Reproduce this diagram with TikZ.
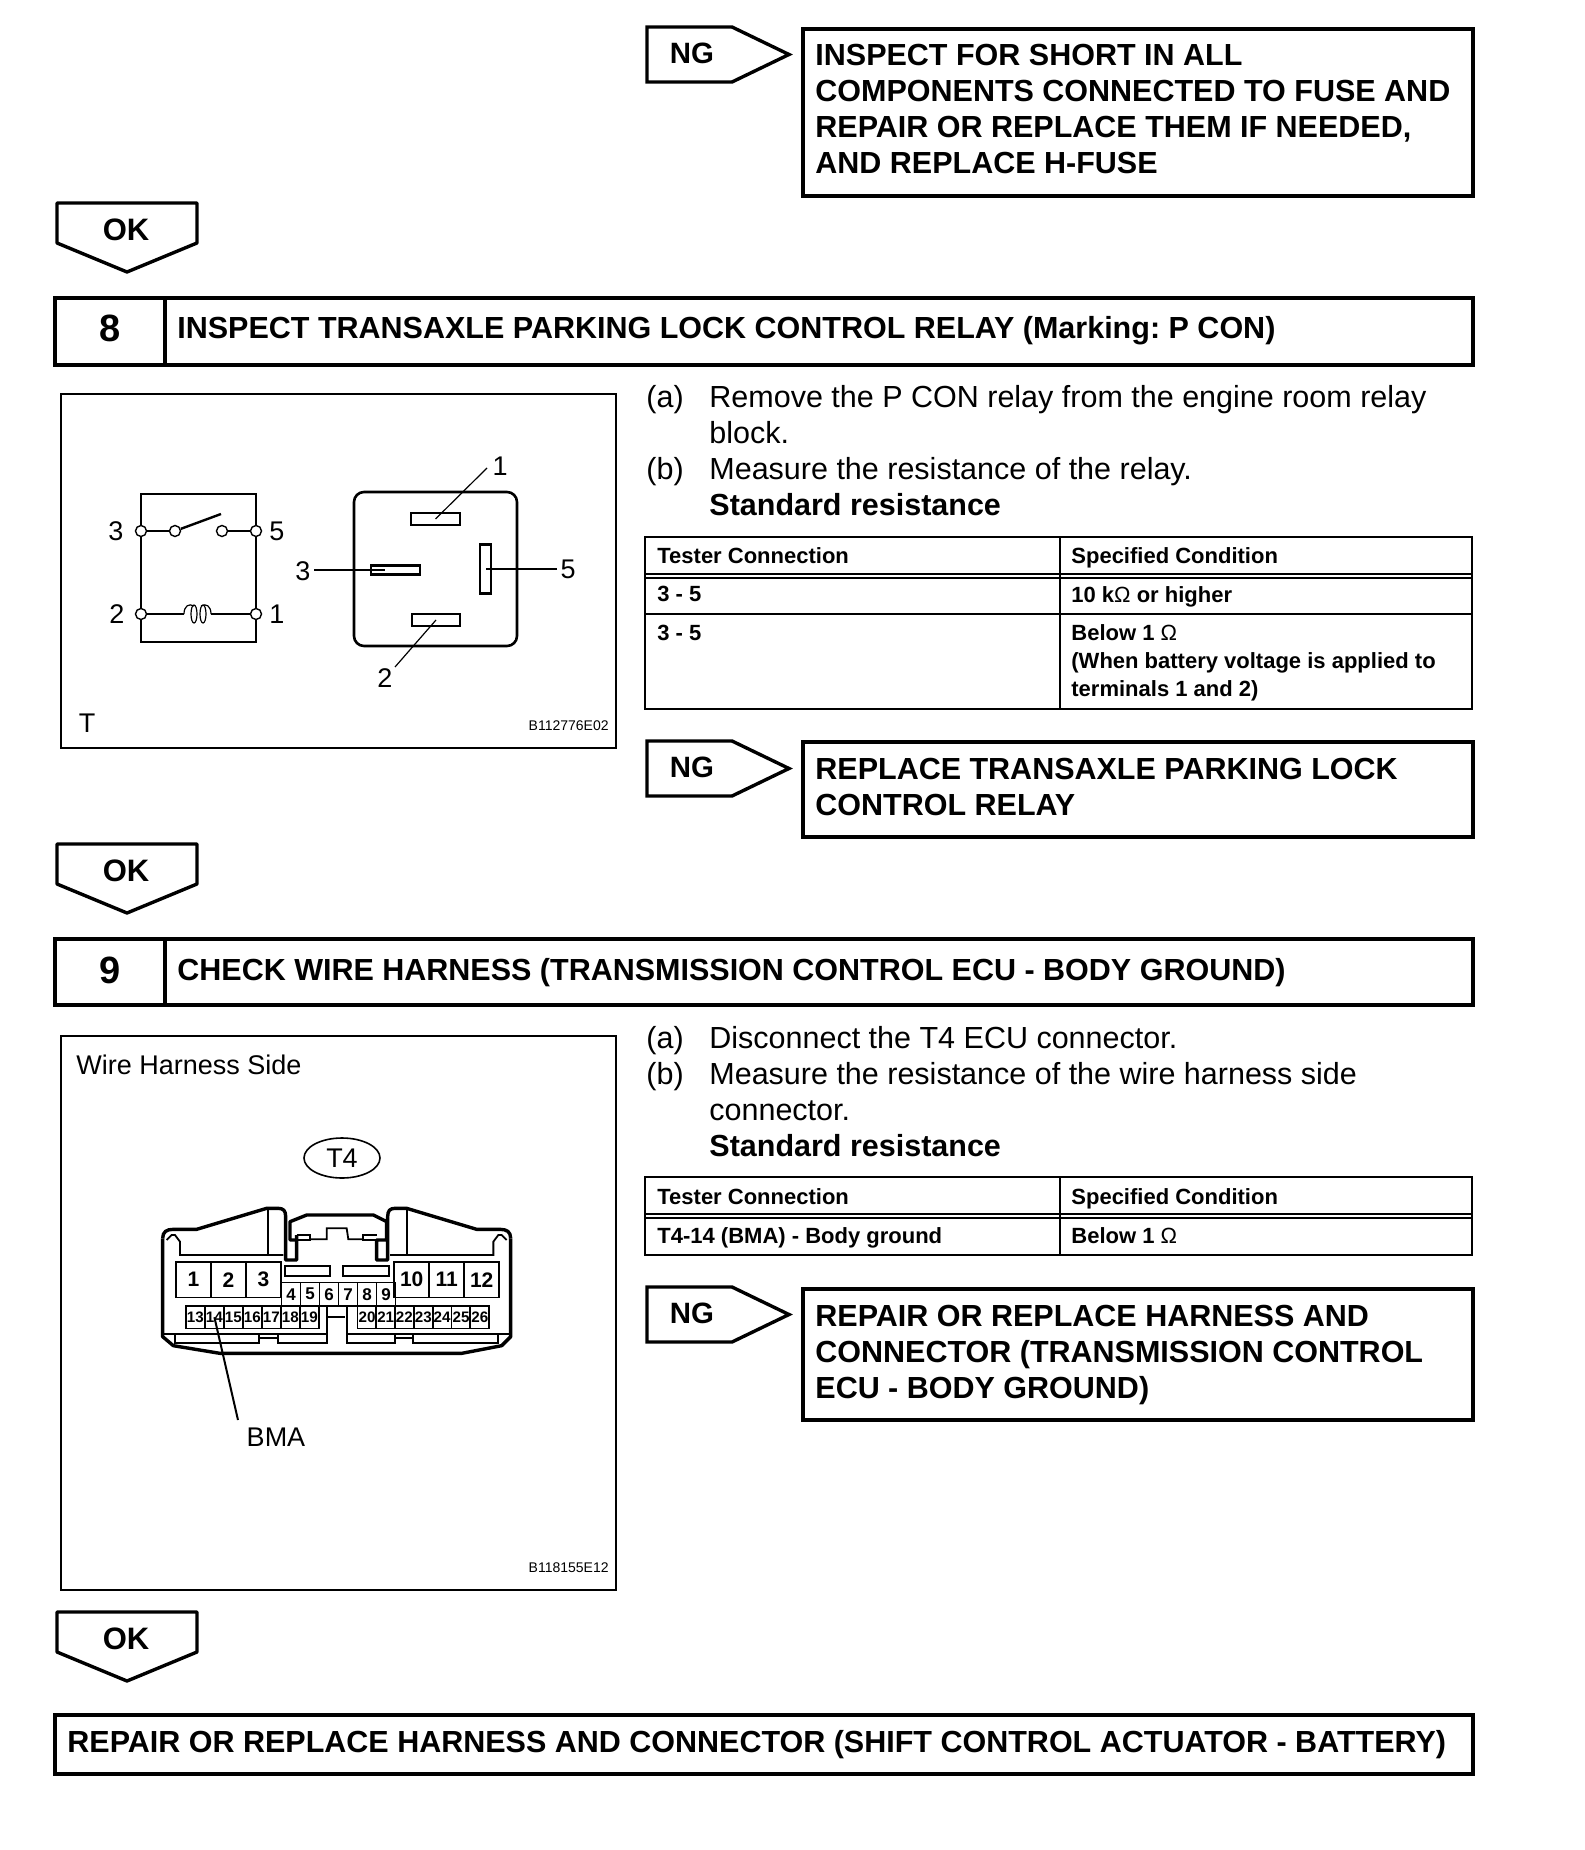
\documentclass[tikz,border=0pt]{standalone}
\usepackage{fontspec}
\setmainfont{Liberation Sans}
\usetikzlibrary{shapes.geometric}
\AtBeginDocument{\frenchspacing}
\newcommand{\bodyfont}{\fontsize{15.25pt}{18pt}\selectfont}
\newcommand{\headfont}{\fontsize{15.25pt}{18pt}\selectfont\bfseries}
\newcommand{\cellfont}{\fontsize{11pt}{14pt}\selectfont\bfseries}
\newcommand{\figfont}{\fontsize{13.5pt}{15pt}\selectfont}
\newcommand{\codefont}{\fontsize{7pt}{8pt}\selectfont}
\tikzset{
  heavyline/.style={line width=1.7pt},
  cellline/.style={line width=1pt},
  frameline/.style={line width=0.8pt},
  linetext/.style={anchor=north west, inner sep=0pt, align=left},
  headtext/.style={linetext, font=\headfont, yshift=0.4pt},
  bodytext/.style={linetext, font=\bodyfont, yshift=0.4pt},
  celltext/.style={linetext, font=\cellfont},
  stepnum/.style={font=\fontsize{19pt}{19pt}\selectfont\bfseries, inner sep=0pt},
  figtext/.style={font=\figfont, inner sep=0pt},
  codetext/.style={font=\codefont, inner sep=0pt, anchor=east},
  term/.style={circle, draw, fill=white, line width=0.7pt, minimum size=5.5pt, inner sep=0pt},
  bladepin/.style={draw, line width=1.3pt, inner sep=0pt},
  cav/.style={draw, line width=0.9pt, inner sep=0pt, font=\fontsize{8.5pt}{8.5pt}\selectfont\bfseries, anchor=north west},
  bigcav/.style={draw, line width=0.9pt, inner sep=0pt, font=\fontsize{10.5pt}{10.5pt}\selectfont\bfseries, anchor=north west},
  pics/ngtag/.style={code={
    \draw[heavyline, line join=miter] (0,0) -- (85,0) -- (142,27.5) -- (85,55) -- (0,55) -- cycle;
    \node[font=\fontsize{14.7pt}{18pt}\selectfont\bfseries, inner sep=0pt] at (45,26) (-lbl) {NG};
  }},
  pics/oktag/.style={code={
    \draw[heavyline, line join=round] (0,0) -- (140,0) -- (140,40) -- (70,69) -- (0,40) -- cycle;
    \node[font=\fontsize{15.5pt}{15.5pt}\selectfont\bfseries, inner sep=0pt] at (69,27) (-lbl) {OK};
  }},
}
\begin{document}
\begin{tikzpicture}[x=0.5pt, y=-0.5pt]
\useasboundingbox (0,0) rectangle (1584,1850);

\pic (ngone) at (647,27) {ngtag};
\draw[heavyline] (803,29) rectangle (1473,196);
\node[headtext] at (815,45) (fusetext) {INSPECT FOR SHORT IN ALL\\COMPONENTS CONNECTED TO FUSE AND\\REPAIR OR REPLACE THEM IF NEEDED,\\AND REPLACE H-FUSE};
\pic (okone) at (57,203) {oktag};

\draw[heavyline] (55,298) rectangle (1473,365);
\draw[heavyline] (165,298) -- (165,365);
\node[stepnum] at (110,328) (numeight) {8};
\node[headtext] at (177,317) (headeight) {INSPECT TRANSAXLE PARKING LOCK CONTROL RELAY (Marking: P CON)};

\draw[frameline] (61,394) rectangle (616,748);
\draw[line width=1.3pt] (141,494) rectangle (256,642);
\node[term] at (141,531) (relthree) {};
\node[term] at (256,531) (relfive) {};
\node[term] at (141,614) (reltwo) {};
\node[term] at (256,614) (relone) {};
\node[term] at (175,531) (conta) {};
\node[term] at (222,531) (contb) {};
\coordinate (bladetip) at (221,514);
\coordinate (coilin) at (184,614);
\coordinate (coilout) at (211,614);
\draw[line width=0.6pt] (relthree) -- (conta);
\draw[line width=0.6pt] (contb) -- (relfive);
\draw[line width=1.2pt] (conta) -- (bladetip);
\draw[line width=0.6pt] (reltwo) -- (coilin);
\draw[line width=0.6pt] (coilout) -- (relone);
\draw[line width=0.6pt] (coilin) .. controls (184,606) and (189,603) .. (194,606);
\draw[line width=0.6pt] (coilout) .. controls (211,606) and (206,603) .. (201,606);
\draw[line width=0.6pt] (194,614) ellipse (3 and 9);
\draw[line width=0.6pt] (203,614) ellipse (3 and 9);
\node[figtext] at (116,531) (lblrelthree) {3};
\node[figtext] at (277,531) (lblrelfive) {5};
\node[figtext] at (117,614) (lblreltwo) {2};
\node[figtext] at (277,614) (lblrelone) {1};
\draw[line width=1.3pt, rounded corners=5pt] (354,492) rectangle (517,646);
\node[bladepin, minimum width=24.5pt, minimum height=6pt] at (435.5,519) (pinone) {};
\node[bladepin, minimum width=24pt, minimum height=6pt] at (436,620) (pintwo) {};
\node[bladepin, minimum width=24.5pt, minimum height=4.5pt] at (395.5,570) (pinthree) {};
\node[bladepin, minimum width=5.5pt, minimum height=24.5pt] at (485.5,569) (pinfive) {};
\node[figtext] at (500,466) (lblone) {1};
\node[figtext] at (385,678) (lbltwo) {2};
\node[figtext] at (303,571) (lblthree) {3};
\node[figtext] at (568,569) (lblfive) {5};
\coordinate (endone) at (487,468);
\coordinate (endtwo) at (395,667);
\coordinate (endthree) at (314,570);
\coordinate (inthree) at (385,570);
\coordinate (endfive) at (557,569);
\draw[line width=0.6pt] (endone) -- (pinone.center);
\draw[line width=0.6pt] (endtwo) -- (pintwo.center);
\draw[line width=0.6pt] (endthree) -- (inthree);
\draw[line width=0.6pt] (endfive) -- (pinfive.center);
\node[figtext] at (87,723) (lblt) {T};
\node[codetext] at (609,726) (codeeight) {B112776E02};

\node[bodytext] at (646,386) (itemaeight) {(a)};
\node[bodytext] at (709,386) (textaeight) {Remove the P CON relay from the engine room relay\\block.};
\node[bodytext] at (646,458) (itembeight) {(b)};
\node[bodytext] at (709,458) (textbeight) {Measure the resistance of the relay.\\\textbf{Standard resistance}};

\draw[cellline] (645,537) rectangle (1472,709);
\draw[cellline] (1059.5,537) -- (1059.5,709);
\draw[cellline] (645,574) -- (1472,574);
\draw[cellline] (645,578) -- (1472,578);
\draw[cellline] (645,614) -- (1472,614);
\node[celltext] at (657,547) (testereight) {Tester Connection};
\node[celltext] at (1071,547) (speceight) {Specified Condition};
\node[celltext] at (657,586) (rowaeight) {3 - 5};
\node[celltext] at (1071,586) (valaeight) {10 k{\mdseries Ω} or higher};
\node[celltext] at (657,625) (rowbeight) {3 - 5};
\node[celltext] at (1071,624) (valbeight) {Below 1 {\mdseries Ω}\\(When battery voltage is applied to\\terminals 1 and 2)};

\pic (ngtwo) at (647,741) {ngtag};
\draw[heavyline] (803,742) rectangle (1473,837);
\node[headtext] at (815,759) (relaytext) {REPLACE TRANSAXLE PARKING LOCK\\CONTROL RELAY};
\pic (oktwo) at (57,844) {oktag};

\draw[heavyline] (55,939) rectangle (1473,1005);
\draw[heavyline] (165,939) -- (165,1005);
\node[stepnum] at (110,970) (numnine) {9};
\node[headtext] at (177,959) (headnine) {CHECK WIRE HARNESS (TRANSMISSION CONTROL ECU - BODY GROUND)};

\draw[frameline] (61,1036) rectangle (616,1590);
\node[figtext, anchor=west] at (76,1065) (lblside) {Wire Harness Side};
\node[draw, ellipse, line width=0.8pt, figtext, minimum width=38pt, minimum height=20pt] at (342,1158) (lblfour) {T4};

\begin{scope}[shift={(140,1180)}, x=0.16667pt, y=-0.16667pt]
\draw[line width=1.7pt, line join=round] (68,175) .. controls (68,155) and (80,148) .. (100,148) -- (170,148) -- (380,85) -- (415,85) .. controls (430,85) and (437,92) .. (437,110) -- (437,240) -- (470,240) -- (470,165);
\draw[line width=1.7pt, line join=round] (1112,175) .. controls (1112,155) and (1100,148) .. (1080,148) -- (1010,148) -- (800,85) -- (765,85) .. controls (750,85) and (743,92) .. (743,110) -- (743,240) -- (710,240) -- (710,180) -- (740,180) -- (740,125) -- (700,105) -- (500,105) -- (450,125) -- (450,180) -- (470,180);
\draw[line width=1.7pt, line join=round] (68,175) -- (68,470) -- (100,497) -- (240,520) -- (965,520) -- (1085,497) -- (1112,470) -- (1112,175);
\draw[line width=0.9pt] (80,180) -- (95,165) -- (105,165) -- (120,185) -- (120,225) -- (430,225);
\draw[line width=0.9pt] (385,88) -- (385,225);
\draw[line width=0.9pt] (1100,180) -- (1085,165) -- (1075,165) -- (1060,185) -- (1060,225) -- (750,225);
\draw[line width=0.9pt] (800,88) -- (800,225);
\draw[line width=0.9pt] (470,165) -- (510,165) -- (510,180) -- (470,180);
\draw[line width=0.9pt] (710,165) -- (670,165) -- (670,180) -- (710,180);
\draw[line width=0.9pt] (510,178) -- (560,178) -- (560,145) -- (620,145) -- (625,178) -- (670,178);
\draw[line width=0.9pt] (435,257) rectangle (570,287);
\draw[line width=0.9pt] (608,257) rectangle (747,287);
\draw[line width=0.9pt] (68,462) -- (560,462);
\draw[line width=0.9pt] (620,462) -- (1112,462);
\draw[line width=0.9pt] (105,462) -- (105,490) -- (358,490) -- (358,462);
\draw[line width=0.9pt] (358,475) -- (415,475);
\draw[line width=0.9pt] (415,462) -- (415,490) -- (560,490) -- (560,380);
\draw[line width=0.9pt] (620,380) -- (620,490) -- (765,490) -- (765,462);
\draw[line width=0.9pt] (765,475) -- (820,475);
\draw[line width=0.9pt] (820,462) -- (820,490) -- (1075,490) -- (1075,462);
\draw[line width=0.9pt] (562,410) -- (615,410);
\foreach \num/\xpos in {1/105, 2/210, 3/315, 10/760, 11/865, 12/970}
  \node[bigcav, minimum width=17.5pt, minimum height=17.8pt] at (\xpos,243) (cav\num) {\num};
\foreach \num/\xpos in {4/422, 5/479, 6/536, 7/593, 8/650, 9/707}
  \node[cav, minimum width=9.5pt, minimum height=11.6pt] at (\xpos,305) (cav\num) {\num};
\foreach \num/\xpos in {13/135, 14/192, 15/249, 16/306, 17/363, 18/420, 19/477, 20/650, 21/706, 22/762, 23/819, 24/875, 25/932, 26/988}
  \node[cav, minimum width=9.5pt, minimum height=11.3pt] at (\xpos,375) (cav\num) {\fontsize{7.6pt}{7.6pt}\selectfont\num};
\end{scope}

\node[figtext] at (276,1437) (lblbma) {BMA};
\coordinate (endbma) at (238,1420);
\draw[line width=1pt] (endbma) -- (cav14.center);
\node[codetext] at (609,1568) (codenine) {B118155E12};

\node[bodytext] at (646,1027) (itemanine) {(a)};
\node[bodytext] at (709,1027) (textanine) {Disconnect the T4 ECU connector.};
\node[bodytext] at (646,1063) (itembnine) {(b)};
\node[bodytext] at (709,1063) (textbnine) {Measure the resistance of the wire harness side\\connector.\\\textbf{Standard resistance}};

\draw[cellline] (645,1177) rectangle (1472,1255);
\draw[cellline] (1059.5,1177) -- (1059.5,1255);
\draw[cellline] (645,1214) -- (1472,1214);
\draw[cellline] (645,1218) -- (1472,1218);
\node[celltext] at (657,1188) (testernine) {Tester Connection};
\node[celltext] at (1071,1188) (specnine) {Specified Condition};
\node[celltext] at (657,1227) (rowanine) {T4-14 (BMA) - Body ground};
\node[celltext] at (1071,1227) (valanine) {Below 1 {\mdseries Ω}};

\pic (ngthree) at (647,1287) {ngtag};
\draw[heavyline] (803,1289) rectangle (1473,1420);
\node[headtext] at (815,1306) (harnesstext) {REPAIR OR REPLACE HARNESS AND\\CONNECTOR (TRANSMISSION CONTROL\\ECU - BODY GROUND)};
\pic (okthree) at (57,1612) {oktag};

\draw[heavyline] (55,1715) rectangle (1473,1774);
\node[headtext] at (67,1731) (finaltext) {REPAIR OR REPLACE HARNESS AND CONNECTOR (SHIFT CONTROL ACTUATOR - BATTERY)};
\end{tikzpicture}
\end{document}
